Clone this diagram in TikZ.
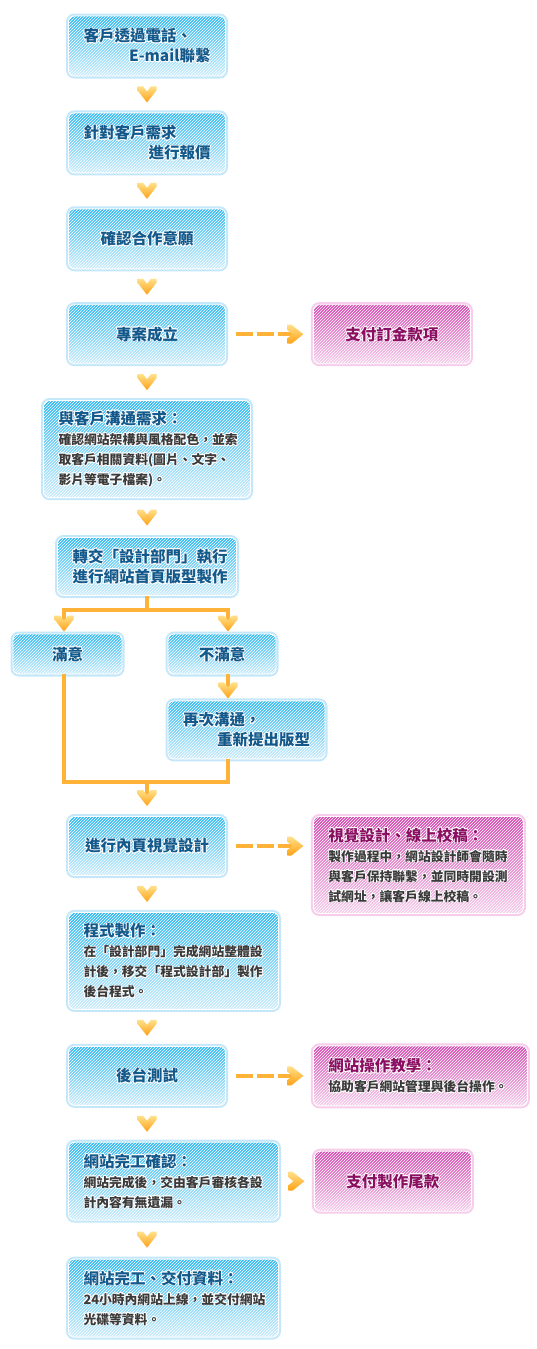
\documentclass[tikz,border=0pt]{standalone}
\usepackage{fontspec}
\usepackage{xcolor}
\usetikzlibrary{positioning,decorations.markings,patterns}
\newfontfamily\cjk{Noto Sans CJK TC}
\definecolor{skytop}{HTML}{2DB8F2}
\definecolor{skymid}{HTML}{62C9F5}
\definecolor{skybot}{HTML}{CDEDFB}
\definecolor{skyglow}{HTML}{C4E8FA}
\definecolor{skyink}{HTML}{13598B}
\definecolor{rosetop}{HTML}{D445AF}
\definecolor{rosemid}{HTML}{E27BC7}
\definecolor{rosebot}{HTML}{F6D0EC}
\definecolor{roseglow}{HTML}{F7CDEB}
\definecolor{roseink}{HTML}{8A0E62}
\definecolor{bodyink}{HTML}{3A3A3A}
\definecolor{chevtop}{HTML}{FFE08A}
\definecolor{chevbot}{HTML}{FFA114}
\definecolor{wire}{HTML}{FFB238}
% white outline round text
\newcommand{\haloat}[3]{\rlap{\hspace*{#1}\raisebox{#2}{\color{white}#3}}}
\newcommand{\halo}[1]{\leavevmode\haloat{-.8pt}{0pt}{#1}\haloat{.8pt}{0pt}{#1}\haloat{0pt}{.8pt}{#1}\haloat{0pt}{-.8pt}{#1}%
  \haloat{.6pt}{.6pt}{#1}\haloat{-.6pt}{.6pt}{#1}\haloat{.6pt}{-.6pt}{#1}\haloat{-.6pt}{-.6pt}{#1}#1}
\newcommand{\ttl}[1]{{\fontsize{15.5}{20}\selectfont\bfseries\halo{#1}}}
\newcommand{\bdy}[1]{{\bfseries\color{bodyink}\halo{#1}}}
\newcommand{\chevron}{\path[top color=chevtop, bottom color=chevbot] (8pt,0pt) -- (-4pt,9.5pt) -- (-8pt,9.5pt) -- (-8pt,4pt) -- (-3pt,0pt) -- (-8pt,-4pt) -- (-8pt,-9.5pt) -- (-4pt,-9.5pt) -- cycle;}

\begin{document}
\begin{tikzpicture}[
  card/.style={rounded corners=6pt, line width=.9pt, draw=white, inner xsep=15pt, inner ysep=0pt, align=left, font=\cjk\fontsize{12.8}{20}\selectfont},
  bbox/.style={card, top color=skytop, middle color=skymid, bottom color=skybot, text=skyink, preaction={draw=skyglow, line width=5pt},
    postaction={pattern=north east lines, pattern color=white, fill opacity=.1}},
  pbox/.style={card, top color=rosetop, middle color=rosemid, bottom color=rosebot, text=roseink, preaction={draw=roseglow, line width=5pt},
    postaction={pattern=north east lines, pattern color=white, fill opacity=.1}},
  chev/.style={postaction={decorate}, decoration={markings, mark=at position .5 with {\chevron}}},
  chevtip/.style={postaction={decorate}, decoration={markings, mark=at position -#1 with {\chevron}}},
  wire/.style={draw=wire, line width=4pt},
  dasharrow/.style={draw=wire, line width=4.5pt, dash pattern=on 17pt off 4pt, shorten <=10.5pt, shorten >=12.5pt, chevtip=17.5pt}]
  \path[fill=white] (0,0) rectangle (537pt,-1349pt);
  \useasboundingbox (0,0) rectangle (537pt,-1349pt);
  \node[bbox, text width=127pt, minimum height=60pt] (b1) at (147pt,-46pt) {\ttl{客戶透過電話、}\\\hspace*{\fill}\ttl{E-mail聯繫}};
  \node[bbox, below=36pt of b1, text width=127pt, minimum height=60pt] (b2) {\ttl{針對客戶需求}\\\hspace*{\fill}\ttl{進行報價}};
  \node[bbox, below=35pt of b2, text width=127pt, minimum height=60pt, align=center] (b3) {\ttl{確認合作意願}};
  \node[bbox, below=35pt of b3, text width=127pt, minimum height=59pt, align=center] (b4) {\ttl{專案成立}};
  \node[pbox, right=87pt of b4, text width=127pt, minimum height=59pt, align=center] (p1) {\ttl{支付訂金款項}};
  \node[bbox, below=36pt of b4, text width=177pt, minimum height=97pt] (b5) {\ttl{與客戶溝通需求：}\\\bdy{確認網站架構與風格配色，並索}\\\bdy{取客戶相關資料(圖片、文字、}\\\bdy{影片等電子檔案)。}};
  \node[bbox, below=39pt of b5, text width=149pt, minimum height=58pt, align=center] (b6) {\ttl{轉交「設計部門」執行}\\\ttl{進行網站首頁版型製作}};
  \node[bbox, text width=79pt, minimum height=40pt, align=center] (b7) at (67.5pt,-654pt) {\ttl{滿意}};
  \node[bbox, text width=78pt, minimum height=40pt, align=center] (b8) at (222pt,-654pt) {\ttl{不滿意}};
  \node[bbox, below=26pt of b8.south west, anchor=north west, text width=127pt, minimum height=58pt] (b9) {\ttl{再次溝通，}\\\hspace*{\fill}\ttl{重新提出版型}};
  \node[bbox, text width=127pt, minimum height=59pt, align=center] (b10) at (147pt,-846pt) {\ttl{進行內頁視覺設計}};
  \node[pbox, right=87pt of b10.north east, anchor=north west, text width=180pt, minimum height=97pt] (p2) {\ttl{視覺設計、線上校稿：}\\\bdy{製作過程中，網站設計師會隨時}\\\bdy{與客戶保持聯繫，並同時開設測}\\\bdy{試網址，讓客戶線上校稿。}};
  \node[bbox, below=36pt of b10.south west, anchor=north west, text width=180pt, minimum height=97pt] (b11) {\ttl{程式製作：}\\\bdy{在「設計部門」完成網站整體設}\\\bdy{計後，移交「程式設計部」製作}\\\bdy{後台程式。}};
  \node[bbox, below=36pt of b11.south west, anchor=north west, text width=127pt, minimum height=59pt, align=center] (b12) {\ttl{後台測試}};
  \node[pbox, right=87pt of b12, text width=184pt, minimum height=60pt] (p3) {\ttl{網站操作教學：}\\\bdy{協助客戶網站管理與後台操作。}};
  \node[bbox, below=36pt of b12.south west, anchor=north west, text width=180pt, minimum height=78pt] (b13) {\ttl{網站完工確認：}\\\bdy{網站完成後，交由客戶審核各設}\\\bdy{計內容有無遺漏。}};
  \node[pbox, right=35pt of b13, text width=127pt, minimum height=60pt, align=center] (p4) {\ttl{支付製作尾款}};
  \node[bbox, below=38pt of b13.south west, anchor=north west, text width=180pt, minimum height=78pt] (b14) {\ttl{網站完工、交付資料：}\\\bdy{24小時內網站上線，並交付網站}\\\bdy{光碟等資料。}};
  % chevrons down the column
  \path[chev] (b1) -- (b2);
  \path[chev] (b2) -- (b3);
  \path[chev] (b3) -- (b4);
  \path[chev] (b4) -- (b5);
  \path[chev] (b5) -- (b6);
  \path[chev] (b10) -- (b10 |- b11.north);
  \path[chev] (b12 |- b11.south) -- (b12);
  \path[chev] (b12) -- (b12 |- b13.north);
  \path[chev] (b12 |- b13.south) -- (b12 |- b14.north);
  % split and merge
  \draw[wire] (b6.south) -- ++(0,-14pt) coordinate (split);
  \draw[wire, chevtip=10pt, shorten >=5pt] (split) -| ([xshift=-3.5pt]b7.north);
  \draw[wire, chevtip=10pt, shorten >=5pt] (split) -| ([xshift=6pt]b8.north);
  \draw[wire, chevtip=10pt, shorten >=5pt] ([xshift=6pt]b8.south) -- ([xshift=6pt]b8.south |- b9.north);
  \coordinate (merge) at (147pt,-782pt);
  \draw[wire] ([xshift=-3.5pt]b7.south) |- (merge) -| ([xshift=6pt]b8.south |- b9.south);
  \draw[wire, chevtip=18pt, shorten >=13pt] (merge) -- (b10);
  % side arrows
  \draw[dasharrow] (b4) -- (p1);
  \draw[dasharrow] (b10) -- (b10 -| p2.west);
  \draw[dasharrow] (b12) -- (p3);
  \path[chevtip=17.5pt] (b13) -- (b13 -| p4.west);
\end{tikzpicture}
\end{document}
